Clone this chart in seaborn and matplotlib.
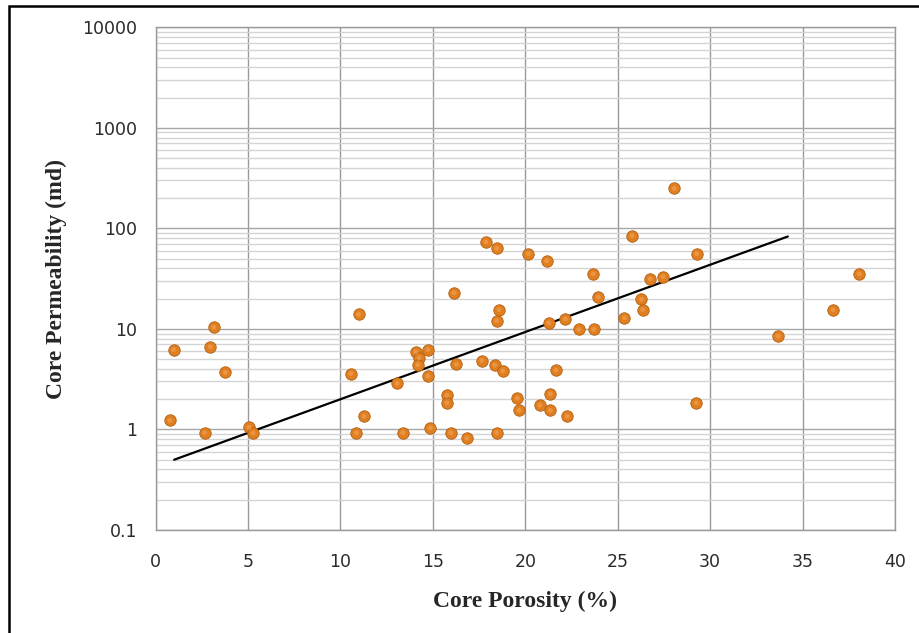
import numpy as np
import pandas as pd
import matplotlib
matplotlib.use("Agg")
import matplotlib.pyplot as plt
import matplotlib.ticker as mticker
from matplotlib.patches import Rectangle
import seaborn as sns

# -------------------------
# Data
# -------------------------
porosity = [0.76, 0.97, 2.65, 2.96, 3.15, 3.77, 5.05, 5.27,
            10.55, 10.86, 10.98, 11.27, 13.07, 13.37, 14.07, 14.25, 14.18, 14.73,
            14.73, 14.86, 15.76, 15.76, 15.96, 16.14, 16.27, 16.83, 17.64, 17.87,
            18.34, 18.45, 18.45, 18.58, 18.78, 18.45, 19.57, 19.66, 20.16, 20.78,
            21.16, 21.27, 21.35, 21.35, 21.66, 22.17, 22.27, 22.89, 23.68, 23.70,
            23.95, 25.36, 25.77, 26.28, 26.35, 26.76, 27.45, 28.06, 29.27, 29.24,
            33.67, 36.65, 38.07]
permeability = [1.23, 6.24, 0.93, 6.64, 10.4, 3.69, 1.05, 0.92,
                3.6, 0.93, 14.0, 1.35, 2.87, 0.93, 5.92, 5.16, 4.40, 6.24,
                3.39, 1.04, 2.18, 1.84, 0.93, 22.9, 4.43, 0.82, 4.85, 73.5,
                4.36, 63.4, 12.1, 15.5, 3.83, 0.93, 2.05, 1.55, 56.1, 1.74,
                47.5, 11.5, 2.26, 1.55, 3.89, 12.6, 1.35, 9.87, 35.3, 9.87,
                20.8, 12.9, 84.8, 19.7, 15.6, 31.5, 33.2, 250, 56.1, 1.84,
                8.46, 15.5, 35.3]

# exponential trendline end points
trend_x = [1.0, 34.2]
trend_y = [0.5, 83]

x_ticks = [0, 5, 10, 15, 20, 25, 30, 35, 40]
y_ticks = [0.1, 1, 10, 100, 1000, 10000]
y_tick_labels = ["0.1", "1", "10", "100", "1000", "10000"]

df = pd.DataFrame({"porosity": porosity, "permeability": permeability})
trend = pd.DataFrame({"x": trend_x, "y": trend_y})

# -------------------------
# Plotting
# -------------------------
sns.set_style("white")
plt.rcParams["font.family"] = ["DejaVu Sans"]

fig = plt.figure(figsize=(9.2, 6.33), dpi=100)
ax = fig.add_axes([0.1692, 0.1627, 0.8036, 0.7942])

ax.set_yscale("log")
ax.set_xlim(0, 40)
ax.set_ylim(0.1, 10000)

# gridlines like Excel
ax.yaxis.set_minor_locator(mticker.LogLocator(base=10, subs=np.arange(2, 10)))
ax.grid(True, which="minor", axis="y", color="#d4d4d4", linewidth=1.0)
ax.grid(True, which="major", axis="y", color="#a6a6a6", linewidth=1.0)
ax.grid(True, which="major", axis="x", color="#999999", linewidth=1.0)
ax.set_axisbelow(True)

sns.lineplot(data=trend, x="x", y="y", ax=ax, color="black", linewidth=1.6, zorder=3)
# ball markers: base, then a soft highlight on top
sns.scatterplot(data=df, x="porosity", y="permeability", ax=ax, s=68,
                color="#E07E22", edgecolor="#B2600F", linewidth=0.6, zorder=4)
sns.scatterplot(data=df, x="porosity", y="permeability", ax=ax, s=12,
                color="#F0A050", edgecolor="none", alpha=0.7, zorder=5)

ax.set_xticks(x_ticks)
ax.set_yticks(y_ticks)
ax.set_yticklabels(y_tick_labels)
ax.tick_params(axis="both", which="major", labelsize=12.5, labelcolor="#2b2b2b",
               color="#999999", direction="out")
ax.tick_params(axis="y", which="major", length=5.5, pad=8)
ax.tick_params(axis="x", which="major", length=4.5, pad=12)
ax.tick_params(axis="y", which="minor", length=0)

for s in ax.spines.values():
    s.set_color("#999999")
    s.set_linewidth(1.0)

ax.set_xlabel("Core Porosity (%)", fontsize=17, fontweight="bold",
              family="Liberation Serif", labelpad=14)
ax.set_ylabel("Core Permeability (md)", fontsize=17, fontweight="bold",
              family="Liberation Serif", labelpad=11)

# outer chart frame (cut off on the right and bottom)
fig.patches.append(Rectangle((9 / 920, -0.1), 1.2, 1.1 - 6 / 633,
                             transform=fig.transFigure, fill=False,
                             edgecolor="black", linewidth=1.8))

fig.savefig("out.png", dpi=100)
